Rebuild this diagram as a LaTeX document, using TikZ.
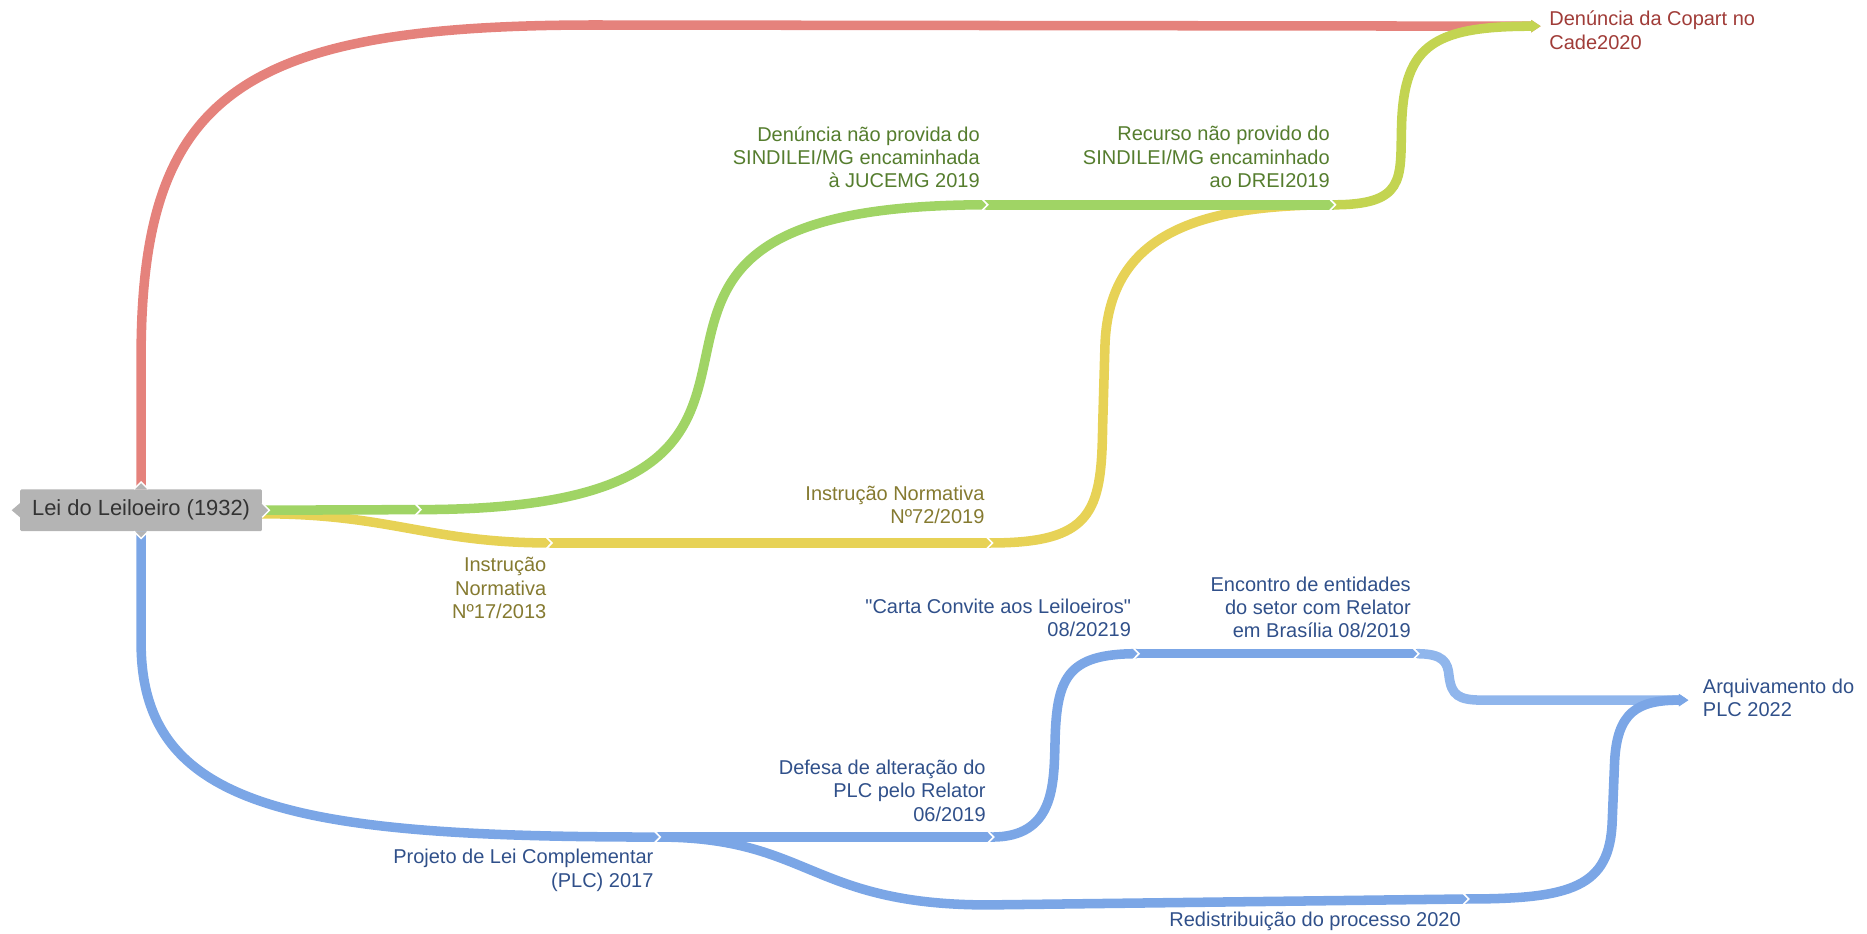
\documentclass[tikz,border=0pt]{standalone}
\usepackage{fontspec}
\setmainfont{Liberation Sans}[Ligatures=TeXOff]
\usetikzlibrary{arrows.meta}
\definecolor{redl}{HTML}{E5827C}
\definecolor{greenl}{HTML}{A0D465}
\definecolor{limel}{HTML}{C3D451}
\definecolor{yellowl}{HTML}{E7D256}
\definecolor{bluel}{HTML}{7BA6E6}
\definecolor{bluelt}{HTML}{90B6EC}
\definecolor{boxgray}{HTML}{B4B4B4}
\definecolor{redtxt}{HTML}{A03C38}
\definecolor{greentxt}{HTML}{557D2E}
\definecolor{olivetxt}{HTML}{857A30}
\definecolor{bluetxt}{HTML}{30508A}
\begin{document}
\begin{tikzpicture}[x=1pt,y=-1pt]
        \tikzstyle{flow}=[line width=8pt]
        \tikzstyle{tip}=[-{Triangle[length=8pt,width=0pt 1.25]}]
        \tikzstyle{joint}=[white,line width=1.4pt]
        \tikzstyle{evt}=[inner sep=0pt,align=right,font=\fontsize{16.8}{19.6}\selectfont]
        \tikzstyle{leibox}=[rectangle,fill=boxgray,text=black!80,inner sep=0pt,minimum width=203pt,minimum height=35pt,rounded corners=1pt,font=\fontsize{18.4}{22}\selectfont]
        \useasboundingbox (0,0) rectangle (1568,784);
        \node [leibox] (lei) at (118.5,428.5) {Lei do Leiloeiro (1932)};
        \coordinate (cade) at (1294,22);
        \coordinate (arq) at (1418,588);
        \coordinate (r1) at (118.5,300);
        \coordinate (r2) at (500,21);
        \coordinate (g1) at (352,428);
        \coordinate (g2) at (828,172);
        \coordinate (g3) at (1120,172);
        \coordinate (g3m) at (1177,110);
        \coordinate (y1) at (462,456);
        \coordinate (y2) at (832,456);
        \coordinate (y2m) at (926,360);
        \coordinate (y2n) at (928,290);
        \coordinate (b0) at (118.5,540);
        \coordinate (b1) at (553,703);
        \coordinate (b2) at (833,703);
        \coordinate (b2m) at (886,626);
        \coordinate (b3) at (955,549);
        \coordinate (b4) at (1190,549);
        \coordinate (b4m) at (1217,568);
        \coordinate (b4n) at (1245,588);
        \coordinate (b5a) at (830,760);
        \coordinate (b5) at (1232,755);
        \coordinate (b5m) at (1354,690);
        \coordinate (b5n) at (1356,640);

        \draw[flow,redl,tip] (lei.north) -- (r1) .. controls +(0,-220) and +(-300,0) .. (r2) -- (cade);
        \draw[flow,bluel] (lei.south) -- (b0) .. controls +(0,140) and +(-303,0) .. (b1);
        \draw[flow,bluel] (b1) -- (b2);
        \draw[flow,bluel] (b2) .. controls +(52,0) and +(-1,34) .. (b2m) .. controls +(1,-56) and +(-60,0) .. (b3);
        \draw[flow,bluel] (b3) -- (b4);
        \draw[flow,bluelt,tip] (b4) .. controls +(22,0) and +(-1,-12) .. (b4m) .. controls +(2,16) and +(-20,0) .. (b4n) -- (arq);
        \draw[flow,bluel] (b1) .. controls +(127,0) and +(-150,0) .. (b5a) -- (b5);
        \draw[flow,bluel,tip] (b5) .. controls +(88,0) and +(-2,55) .. (b5m) -- (b5n) .. controls +(2,-42) and +(-43,0) .. (arq);
        \draw[flow,yellowl] ([yshift=-3pt]lei.east) .. controls +(108,0) and +(-102,0) .. (y1);
        \draw[flow,yellowl] (y1) -- (y2);
        \draw[flow,yellowl] (y2) .. controls +(85,0) and +(-1,70) .. (y2m) -- (y2n) .. controls +(3,-90) and +(-120,0) .. (g3);
        \draw[flow,greenl] (lei.east) -- (g1);
        \draw[flow,greenl] (g1) .. controls +(425,0) and +(-418,0) .. (g2);
        \draw[flow,greenl] (g2) -- (g3);
        \draw[flow,limel,tip] (g3) .. controls +(60,0) and +(-1,40) .. (g3m) .. controls +(1,-70) and +(-94,0) .. (cade);

        \foreach \j in {g1,g2,g3,y1,y2,b1,b2,b3,b4,b5}
          \draw[joint] ([xshift=-3pt,yshift=4.6pt]\j) -- ([xshift=1.5pt]\j) -- ([xshift=-3pt,yshift=-4.6pt]\j);

        \filldraw[fill=boxgray,draw=white,line width=1.2pt] ([xshift=-6pt]lei.north) -- ([yshift=6pt]lei.north) -- ([xshift=6pt]lei.north);
        \filldraw[fill=boxgray,draw=white,line width=1.2pt] ([xshift=-6pt]lei.south) -- ([yshift=-6pt]lei.south) -- ([xshift=6pt]lei.south);
        \filldraw[fill=boxgray,draw=white,line width=1.2pt] ([yshift=6pt]lei.east) -- ([xshift=6pt]lei.east) -- ([yshift=-6pt]lei.east);
        \fill[boxgray] ([yshift=6pt]lei.west) -- ([xshift=-7pt]lei.west) -- ([yshift=-6pt]lei.west);

        \node [evt,anchor=north west,align=left,text=redtxt] (copart) at (1301,9) {Denúncia da Copart no\\Cade2020};
        \node [evt,anchor=north east,text=greentxt] (jucemg) at (823,106) {Denúncia não provida do\\SINDILEI/MG encaminhada\\à JUCEMG 2019};
        \node [evt,anchor=north east,text=greentxt] (drei) at (1117,106) {Recurso não provido do\\SINDILEI/MG encaminhado\\ao DREI2019};
        \node [evt,anchor=north east,text=olivetxt] (in72) at (827,408) {Instrução Normativa\\Nº72/2019};
        \node [evt,anchor=north east,text=olivetxt] (in17) at (459,468) {Instrução\\Normativa\\Nº17/2013};
        \node [evt,anchor=north east,text=bluetxt] (carta) at (950,503) {"Carta Convite aos Leiloeiros"\\08/20219};
        \node [evt,anchor=north east,text=bluetxt] (encontro) at (1185,484) {Encontro de entidades\\do setor com Relator\\em Brasília 08/2019};
        \node [evt,anchor=north west,align=left,text=bluetxt] (arquiv) at (1430,570) {Arquivamento do\\PLC 2022};
        \node [evt,anchor=north east,text=bluetxt] (defesa) at (828,638) {Defesa de alteração do\\PLC pelo Relator\\06/2019};
        \node [evt,anchor=north east,text=bluetxt] (plc) at (549,713) {Projeto de Lei Complementar\\(PLC) 2017};
        \node [evt,anchor=north east,text=bluetxt] (redist) at (1227,766) {Redistribuição do processo 2020};
\end{tikzpicture}
\end{document}
